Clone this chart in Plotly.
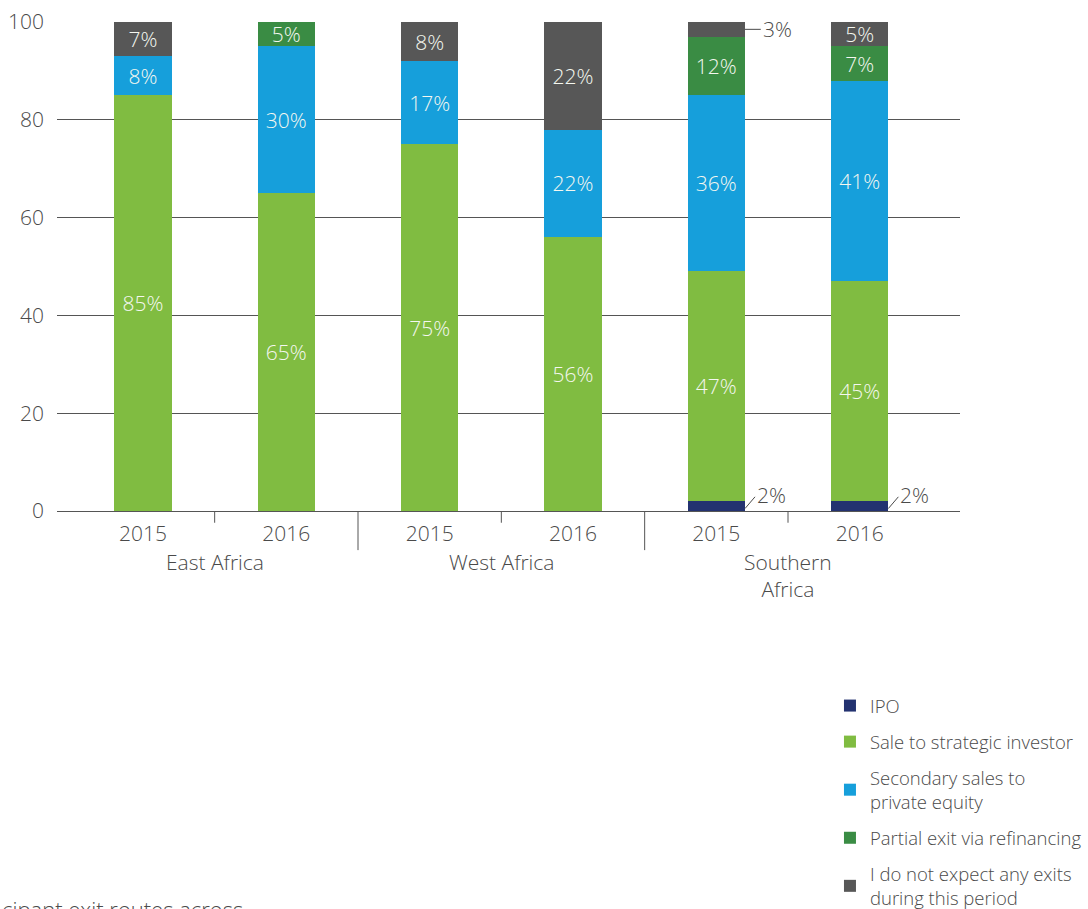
import plotly.graph_objects as go

# ---- data ----
years = ["2015", "2016", "2015", "2016", "2015", "2016"]
regions = ["East Africa", "West Africa", "Southern<br>Africa"]
series_names = [
    "IPO",
    "Sale to strategic investor",
    "Secondary sales to<br>private equity",
    "Partial exit via refinancing",
    "I do not expect any exits<br>during this period",
]
ipo = [0, 0, 0, 0, 2, 2]
sale = [85, 65, 75, 56, 47, 45]
secondary = [8, 30, 17, 22, 36, 41]
partial = [0, 5, 0, 0, 12, 7]
no_exit = [7, 0, 8, 22, 3, 5]
colors = ["#233270", "#80BC41", "#169FDB", "#3A8C44", "#575757"]

values = [ipo, sale, secondary, partial, no_exit]
FONT = "Open Sans"
TXT = "#4a4a4a"
FS = 21
BW = 0.4
xs = list(range(len(years)))

fig = go.Figure()
for name, vals, col in zip(series_names, values, colors):
    texts = []
    for v in vals:
        if v >= 5 and name != "IPO":
            texts.append(f"{v}%")
        else:
            texts.append("")
    fig.add_trace(go.Bar(
        x=xs, y=vals, name=name, marker=dict(color=col, line=dict(width=0)),
        width=BW, text=texts, textposition="inside", insidetextanchor="middle",
        textangle=0, textfont=dict(family=FONT, size=FS, color="#f4f7f0", weight=300),
        legendgroup=name, hoverinfo="skip",
    ))

# small outside labels with leader lines (IPO values and small no-exit value)
for i, v in enumerate(ipo):
    if v > 0:
        x0 = i + BW / 2
        fig.add_shape(type="line", xref="x", yref="y", x0=x0, y0=v * 0.25, x1=x0 + 0.07, y1=v * 1.45,
                      line=dict(color=TXT, width=1))
        fig.add_annotation(x=x0 + 0.07, y=v * 1.6, xref="x", yref="y", text=f"{v}%", showarrow=False,
                           xanchor="left", yanchor="middle",
                           font=dict(family=FONT, size=FS, color=TXT, weight=300))
for i, v in enumerate(no_exit):
    if 0 < v < 5:
        top = ipo[i] + sale[i] + secondary[i] + partial[i] + v
        ymid = top - v / 2
        x0 = i + BW / 2
        fig.add_shape(type="line", xref="x", yref="y", x0=x0, y0=ymid, x1=x0 + 0.11, y1=ymid,
                      line=dict(color=TXT, width=1))
        fig.add_annotation(x=x0 + 0.11, y=ymid, xref="x", yref="y", text=f"{v}%", showarrow=False,
                           xanchor="left", yanchor="middle",
                           font=dict(family=FONT, size=FS, color=TXT, weight=300))

# category dividers
for k in range(len(years) - 1):
    xb = k + 0.5
    long = (k % 2 == 1)
    fig.add_shape(type="line", xref="x", yref="paper", x0=xb, x1=xb, y0=0,
                  y1=-0.08 if long else -0.024, line=dict(color="#555555", width=1))

# region labels
for j, r in enumerate(regions):
    fig.add_annotation(x=2 * j + 0.5, y=-0.072, xref="x", yref="paper", text=r, showarrow=False,
                       xanchor="center", yanchor="top",
                       font=dict(family=FONT, size=FS, color=TXT, weight=300))

# truncated caption at bottom-left
fig.add_annotation(x=-0.063, y=-0.780, xref="paper", yref="paper", text="cipant exit routes across",
                   showarrow=False, xanchor="left", yanchor="top",
                   font=dict(family=FONT, size=22, color=TXT, weight=300))

fig.update_layout(
    width=1088, height=909,
    margin=dict(l=57, r=128, t=22, b=398, autoexpand=False),
    barmode="stack",
    plot_bgcolor="white", paper_bgcolor="white",
    font=dict(family=FONT, color=TXT, weight=300),
    uniformtext=dict(minsize=FS, mode="show"),
    showlegend=True,
    legend=dict(
        x=0.856, y=-0.36, xanchor="left", yanchor="top",
        traceorder="grouped", tracegroupgap=9,
        font=dict(family=FONT, size=18.5, color=TXT, weight=300),
        bgcolor="rgba(0,0,0,0)",
    ),
    xaxis=dict(
        range=[-0.6, 5.7], tickvals=xs, ticktext=years, showgrid=False, zeroline=False,
        showline=False, ticks="", ticklabelstandoff=8,
        tickfont=dict(family=FONT, size=FS, color=TXT, weight=300),
    ),
    yaxis=dict(
        range=[0, 100], tickvals=[0, 20, 40, 60, 80, 100], showgrid=True, gridcolor="#555555",
        gridwidth=1, zeroline=True, zerolinecolor="#555555", zerolinewidth=1, ticks="",
        ticklabelstandoff=12, tickfont=dict(family=FONT, size=FS, color=TXT, weight=300),
    ),
)

fig.write_html("out.html", config={"displayModeBar": False},
               post_script="document.body.style.margin='0';document.body.style.overflow='hidden';")
